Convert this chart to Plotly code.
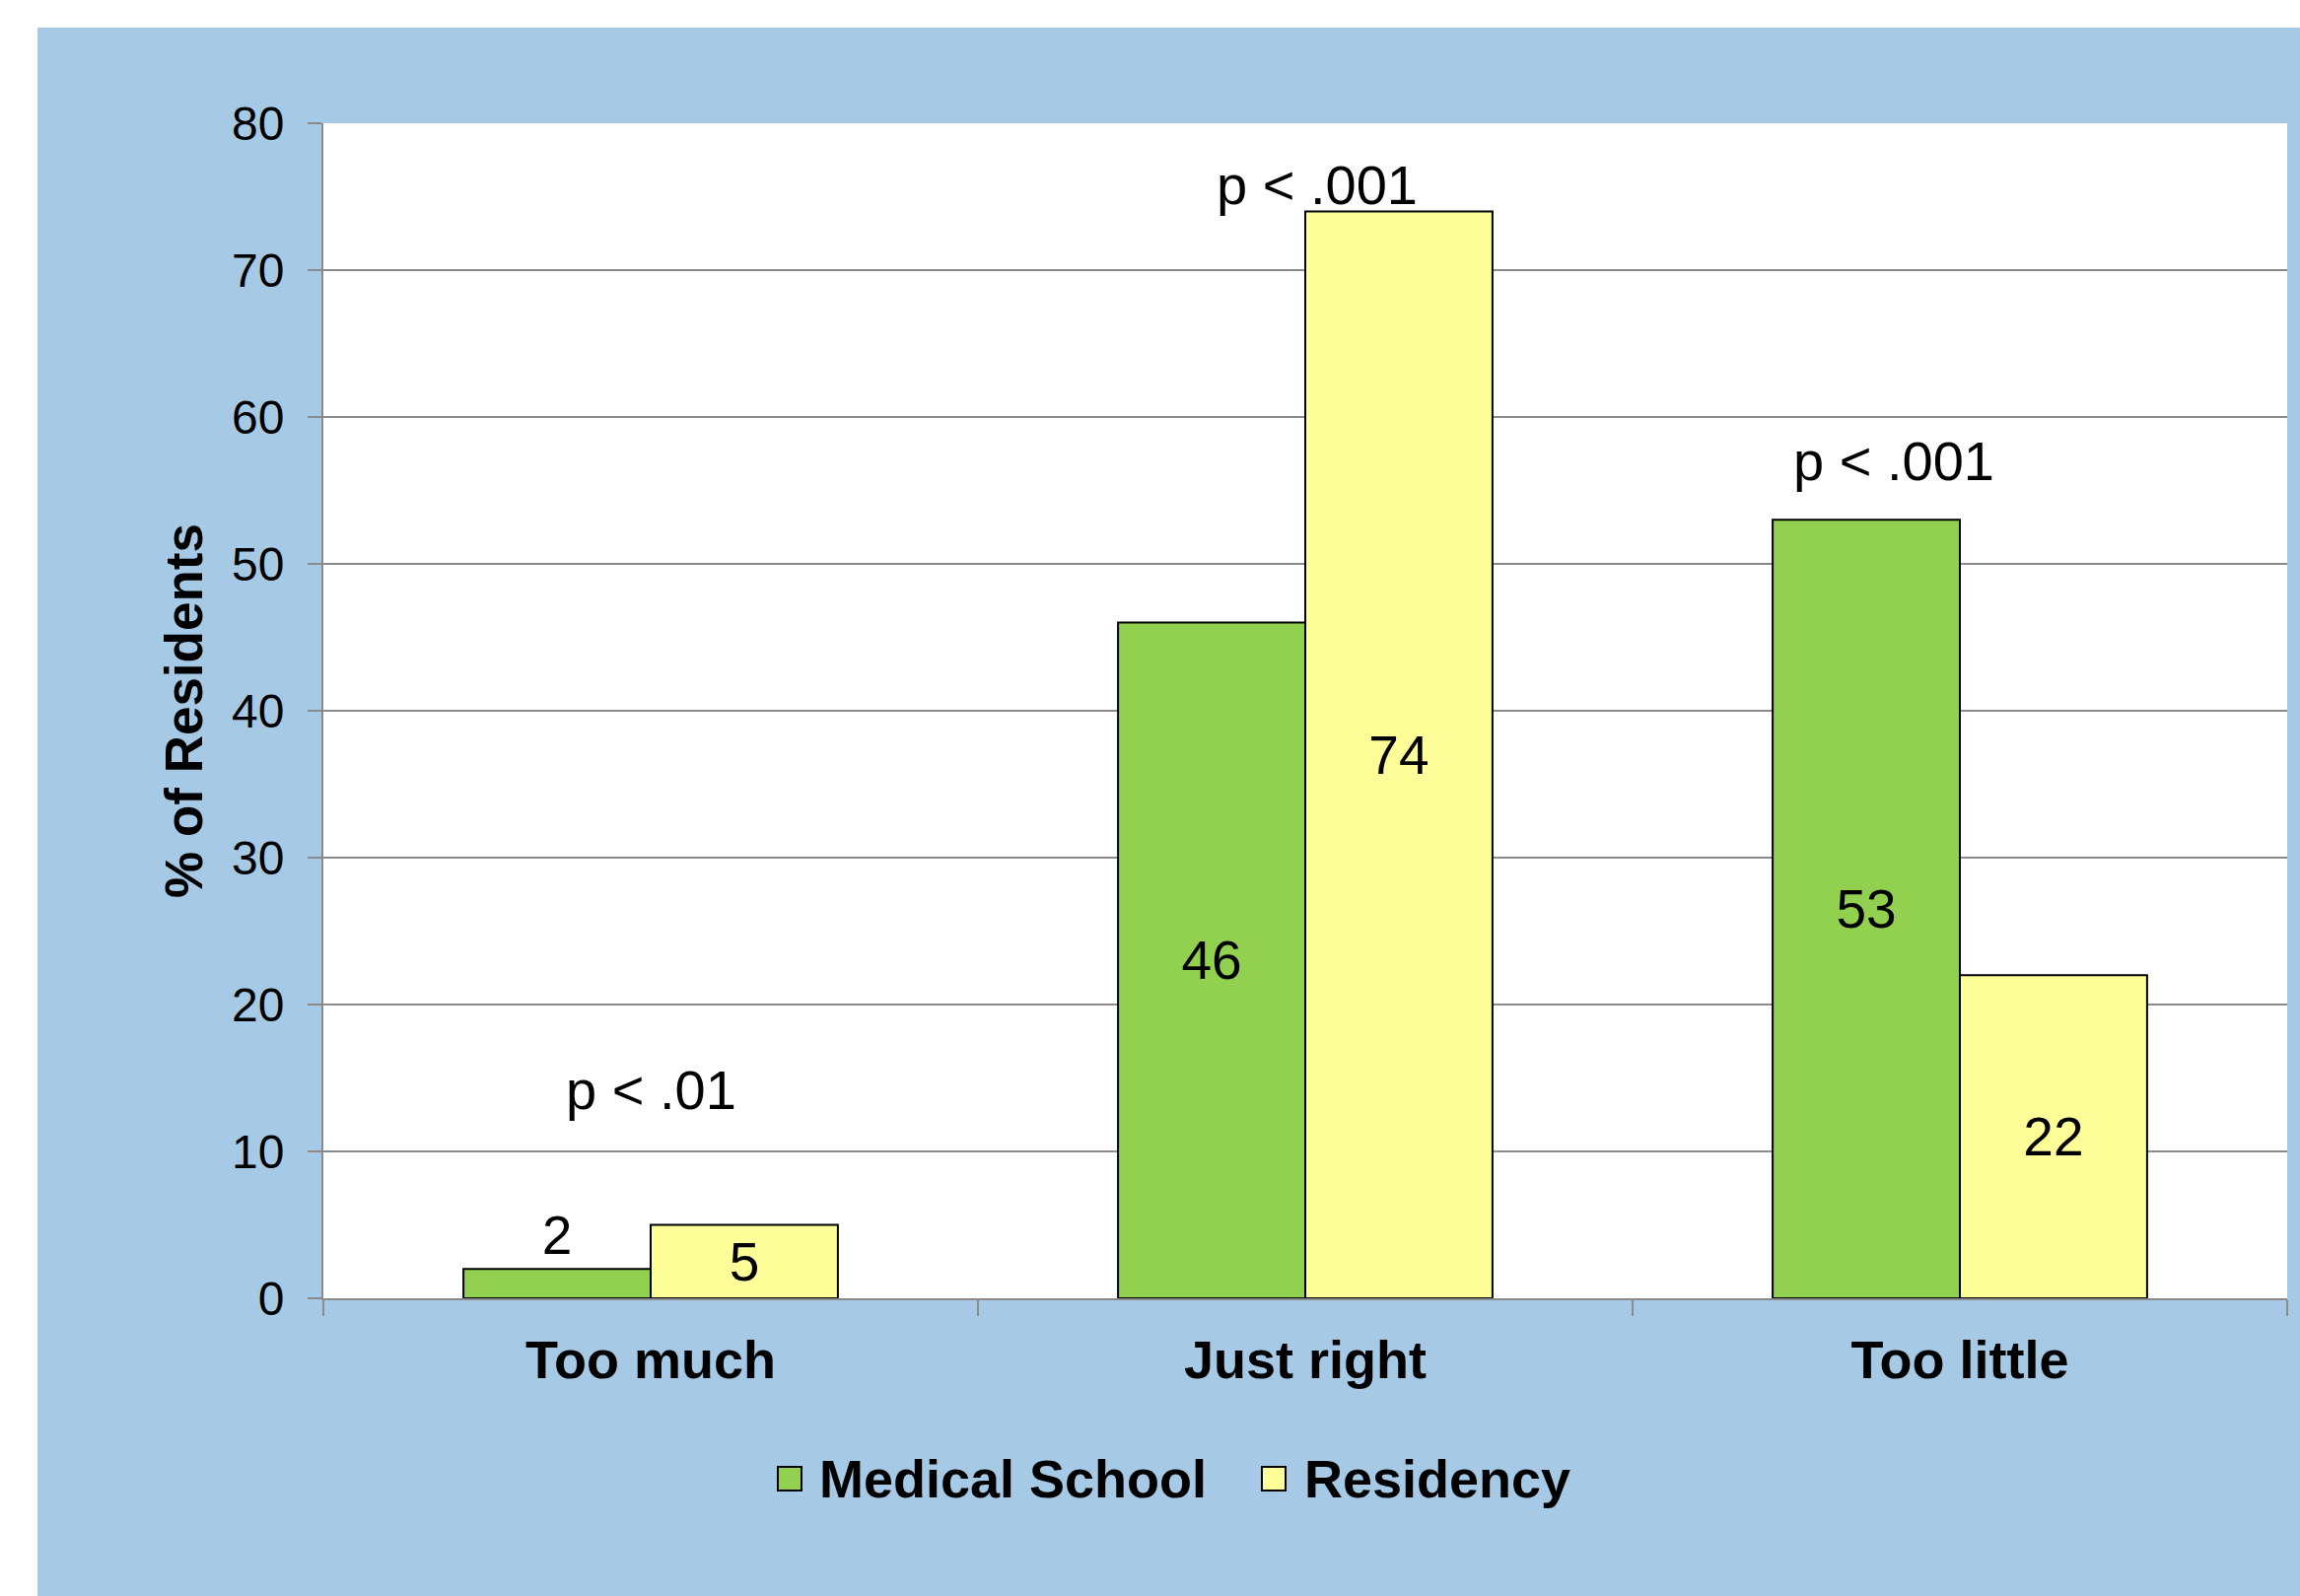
import plotly.graph_objects as go

categories = ["Too much", "Just right", "Too little"]
medical_school = [2, 46, 53]
residency = [5, 74, 22]
med_label_pos = ["outside", "inside", "inside"]
res_label_pos = ["inside", "inside", "inside"]
p_texts = ["p < .01", "p < .001", "p < .001"]
p_y = [14.2, 75.8, 57.0]
p_xshift = [0, 12, -67]
y_ticks = [0, 10, 20, 30, 40, 50, 60, 70, 80]
series_names = ["Medical School", "Residency"]

GREEN = "#92D050"
YELLOW = "#FFFF99"
BLUE = "#A6CAE6"
GRID = "#8A8A8A"
FONT = "Liberation Sans, Arial, sans-serif"

W, H = 2333, 1619
ML, MR, MT, MB = 328, 13, 125, 302
PW = W - ML - MR
PH = H - MT - MB


def px_x(p):
    return (p - ML) / PW


def px_y(p):
    return (H - MB - p) / PH


fig = go.Figure()
fig.add_trace(go.Bar(
    x=categories, y=medical_school, name=series_names[0],
    marker=dict(color=GREEN, line=dict(color="black", width=2)),
    text=[str(v) for v in medical_school], textposition=med_label_pos,
    insidetextanchor="middle",
    textfont=dict(family=FONT, size=55, color="black"),
    cliponaxis=False, showlegend=False,
))
fig.add_trace(go.Bar(
    x=categories, y=residency, name=series_names[1],
    marker=dict(color=YELLOW, line=dict(color="black", width=2)),
    text=[str(v) for v in residency], textposition=res_label_pos,
    insidetextanchor="middle",
    textfont=dict(family=FONT, size=55, color="black"),
    cliponaxis=False, showlegend=False,
))

for cat, t, yy, xs in zip(categories, p_texts, p_y, p_xshift):
    fig.add_annotation(x=cat, y=yy, text=t, showarrow=False, xshift=xs,
                       xanchor="center", yanchor="middle",
                       font=dict(family=FONT, size=56, color="black"))

# custom legend (large square swatches like the original)
leg_y = px_y(1500)
half = 12 / PH
swatches = [(789, 829, GREEN), (1280, 1321, YELLOW)]
for (sx, tx, col), name in zip(swatches, series_names):
    fig.add_shape(type="rect", xref="paper", yref="paper",
                  x0=px_x(sx), x1=px_x(sx + 24), y0=leg_y - half, y1=leg_y + half,
                  fillcolor=col, line=dict(color="black", width=2))
    fig.add_annotation(xref="paper", yref="paper", x=px_x(tx), y=leg_y,
                       text=name, showarrow=False, xanchor="left", yanchor="middle",
                       font=dict(family=FONT, size=54, color="black", weight="bold"))

# white strips at top and left (outside the blue panel)
fig.add_shape(type="rect", xref="paper", yref="paper", layer="below",
              x0=px_x(0), x1=px_x(W), y0=px_y(28), y1=px_y(0),
              fillcolor="white", line=dict(width=0))
fig.add_shape(type="rect", xref="paper", yref="paper", layer="below",
              x0=px_x(0), x1=px_x(38), y0=px_y(H), y1=px_y(0),
              fillcolor="white", line=dict(width=0))

fig.update_layout(
    width=W, height=H,
    margin=dict(l=ML, r=MR, t=MT, b=MB),
    paper_bgcolor=BLUE, plot_bgcolor="white",
    barmode="group", bargap=0.428, bargroupgap=0,
    font=dict(family=FONT, color="black"),
    showlegend=False,
    uniformtext=dict(minsize=55, mode="show"),
)
fig.update_xaxes(
    showline=True, linecolor=GRID, linewidth=2,
    ticks="outside", tickson="boundaries", ticklen=16, tickcolor=GRID, tickwidth=2,
    tickfont=dict(family=FONT, size=54, color="black", weight="bold"),
    ticklabelstandoff=14,
    showgrid=False,
)
fig.update_yaxes(
    range=[0, 80], tickvals=y_ticks,
    showline=True, linecolor=GRID, linewidth=2,
    ticks="outside", ticklen=14, tickcolor=GRID, tickwidth=2,
    tickfont=dict(family=FONT, size=48, color="black"),
    ticklabelstandoff=14,
    showgrid=True, gridcolor=GRID, gridwidth=2, zeroline=False,
    title=dict(text="% of Residents", standoff=12,
               font=dict(family=FONT, size=53, color="black", weight="bold")),
)

fig.write_html("out.html")
